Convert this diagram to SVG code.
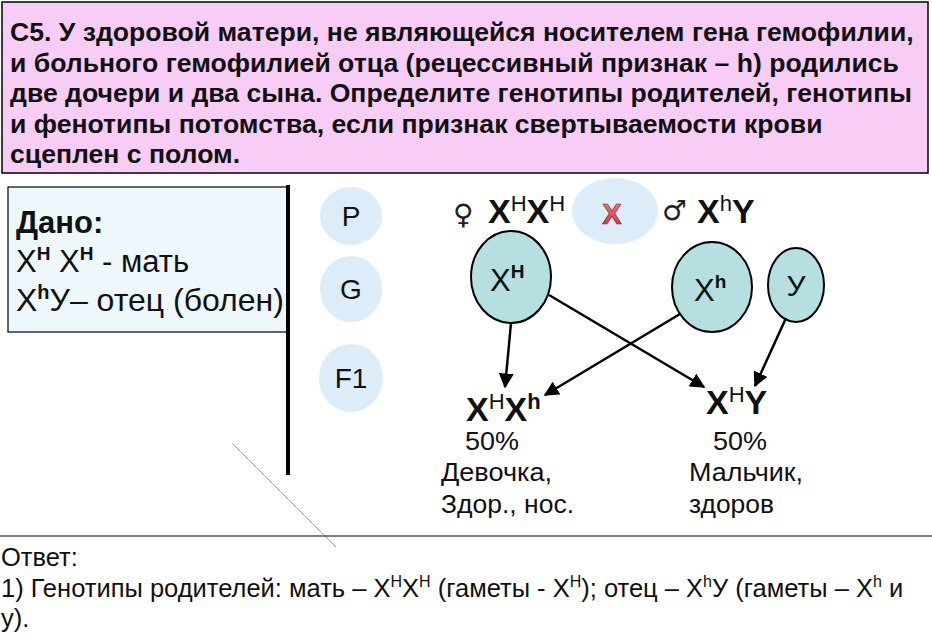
<svg xmlns="http://www.w3.org/2000/svg" width="932" height="641" viewBox="0 0 932 641">
<defs>
<style>
.b{font-family:"Liberation Sans",Arial,sans-serif;font-weight:bold;fill:#111}
.r{font-family:"Liberation Sans",Arial,sans-serif;fill:#111}
.n{font-family:"Liberation Sans Narrow","Liberation Sans",Arial,sans-serif;fill:#111}
.lbl{fill:#dcecf8}
.gam{fill:#b5dfe1;stroke:#000;stroke-width:2}
.arr{stroke:#000;stroke-width:2.5;fill:none;marker-end:url(#ah)}
</style>
<marker id="ah" viewBox="0 0 10 10" refX="9" refY="5" markerWidth="6" markerHeight="6" orient="auto" markerUnits="strokeWidth">
<path d="M0,0 L10,5 L0,10 z" fill="#000"/>
</marker>
<linearGradient id="redg" x1="0" y1="0" x2="0" y2="1">
<stop offset="0" stop-color="#f28a8a"/>
<stop offset="1" stop-color="#c3303c"/>
</linearGradient>
</defs>
<rect width="932" height="641" fill="#fff"/>

<g id="task">
<rect x="2" y="2" width="926" height="171" fill="#f8cdf5" stroke="#000" stroke-width="1.5"/>
<text class="b" font-size="26.6" x="10" y="41">С5. У здоровой матери, не являющейся носителем гена гемофилии,</text>
<text class="b" font-size="26.6" x="10" y="71.5">и больного гемофилией отца (рецессивный признак – h) родились</text>
<text class="b" font-size="26.6" x="10" y="102">две дочери и два сына. Определите генотипы родителей, генотипы</text>
<text class="b" font-size="26.6" x="10" y="132.5">и фенотипы потомства, если признак свертываемости крови</text>
<text class="b" font-size="26.6" x="10" y="163">сцеплен с полом.</text>
</g>

<g id="given">
<rect x="8" y="187" width="279" height="145" fill="#eef7fb" stroke="#000" stroke-width="1.2"/>
<text class="b" font-size="31" x="16" y="233">Дано:</text>
<text class="r" font-size="31" x="16" y="272">X<tspan font-size="19" font-weight="bold" dy="-12">H</tspan><tspan dy="12"> X</tspan><tspan font-size="19" font-weight="bold" dy="-12">H</tspan><tspan dy="12"> - мать</tspan></text>
<text class="r" font-size="32" x="16" y="311">X<tspan font-size="20" font-weight="bold" dy="-12">h</tspan><tspan dy="12">У– отец (болен)</tspan></text>
</g>

<line x1="288" y1="185" x2="288" y2="475" stroke="#000" stroke-width="4"/>
<line x1="232" y1="443" x2="336" y2="547" stroke="#aaa" stroke-width="1"/>

<g id="P">
<ellipse class="lbl" cx="351" cy="216" rx="31" ry="29"/>
<text class="r" font-size="28" x="351" y="226" text-anchor="middle">P</text>
</g>
<g id="G">
<ellipse class="lbl" cx="351" cy="289" rx="31" ry="33"/>
<text class="r" font-size="28" x="351" y="299" text-anchor="middle">G</text>
</g>
<g id="F1">
<ellipse class="lbl" cx="351" cy="378" rx="32" ry="34"/>
<text class="r" font-size="28" x="351" y="388" text-anchor="middle">F1</text>
</g>

<g id="mother">
<text font-family="DejaVu Sans,sans-serif" font-size="28" x="453" y="224" fill="#222">♀</text>
<text class="b" font-size="34" x="488" y="223">X<tspan font-size="22" font-weight="normal" dy="-12">H</tspan><tspan dy="12">X</tspan><tspan font-size="22" font-weight="normal" dy="-12">H</tspan></text>
</g>
<g id="cross">
<ellipse class="lbl" cx="615" cy="211" rx="43" ry="33"/>
<text font-family="Liberation Sans,Arial,sans-serif" font-weight="bold" font-size="29" x="612" y="224" text-anchor="middle" fill="url(#redg)" stroke="#9a2030" stroke-width="0.7">X</text>
</g>
<g id="father">
<text font-family="DejaVu Sans,sans-serif" font-size="28" x="662" y="220" fill="#222">♂</text>
<text class="b" font-size="34" x="697" y="223">X<tspan font-size="22" font-weight="normal" dy="-12">h</tspan><tspan dy="12">Y</tspan></text>
</g>

<g id="gXH">
<ellipse class="gam" cx="511" cy="277" rx="40" ry="46"/>
<text class="r" font-size="31" x="490" y="291" fill="#333">X<tspan font-size="19" font-weight="bold" dy="-13">H</tspan></text>
</g>
<g id="gXh">
<ellipse class="gam" cx="712" cy="287" rx="40" ry="45"/>
<text class="r" font-size="31" x="694" y="301" fill="#333">X<tspan font-size="19" font-weight="bold" dy="-13">h</tspan></text>
</g>
<g id="gY">
<ellipse class="gam" cx="796" cy="285" rx="28" ry="37"/>
<text class="r" font-size="30" x="796" y="296" text-anchor="middle" fill="#333">У</text>
</g>

<g id="connectors">
<line class="arr" x1="511" y1="323" x2="505" y2="387"/>
<line class="arr" x1="549" y1="295" x2="704" y2="387"/>
<line class="arr" x1="680" y1="314" x2="545" y2="395"/>
<line class="arr" x1="786" y1="318" x2="755" y2="386"/>
</g>

<g id="daughter">
<text class="b" font-size="34" x="466" y="421">X<tspan font-size="22" font-weight="normal" dy="-12">H</tspan><tspan dy="12">X</tspan><tspan font-size="22" dy="-12">h</tspan></text>
<text class="n" font-size="26" x="465" y="450" textLength="54" lengthAdjust="spacingAndGlyphs">50%</text>
<text class="n" font-size="26" x="441" y="481" textLength="111" lengthAdjust="spacingAndGlyphs">Девочка,</text>
<text class="n" font-size="26" x="441" y="513" textLength="133" lengthAdjust="spacingAndGlyphs">Здор., нос.</text>
</g>
<g id="son">
<text class="b" font-size="34" x="706" y="414">X<tspan font-size="22" font-weight="normal" dy="-12">H</tspan><tspan dy="12">Y</tspan></text>
<text class="n" font-size="26" x="713" y="450" textLength="54" lengthAdjust="spacingAndGlyphs">50%</text>
<text class="n" font-size="26" x="689" y="481" textLength="114" lengthAdjust="spacingAndGlyphs">Мальчик,</text>
<text class="n" font-size="26" x="689" y="513" textLength="85" lengthAdjust="spacingAndGlyphs">здоров</text>
</g>

<line x1="0" y1="536" x2="932" y2="536" stroke="#000" stroke-width="1.2"/>
<g id="answer">
<text class="n" font-size="25.5" x="1" y="566">Ответ:</text>
<text class="n" font-size="25.5" x="1" y="597">1) Генотипы родителей: мать – X<tspan font-size="16" dy="-10">H</tspan><tspan dy="10">X</tspan><tspan font-size="16" dy="-10">H</tspan><tspan dy="10"> (гаметы  - X</tspan><tspan font-size="16" dy="-10">H</tspan><tspan dy="10">); отец – X</tspan><tspan font-size="16" dy="-10">h</tspan><tspan dy="10">У (гаметы – X</tspan><tspan font-size="16" dy="-10">h</tspan><tspan dy="10"> и</tspan></text>
<text class="n" font-size="25.5" x="1" y="627">у).</text>
</g>
</svg>
